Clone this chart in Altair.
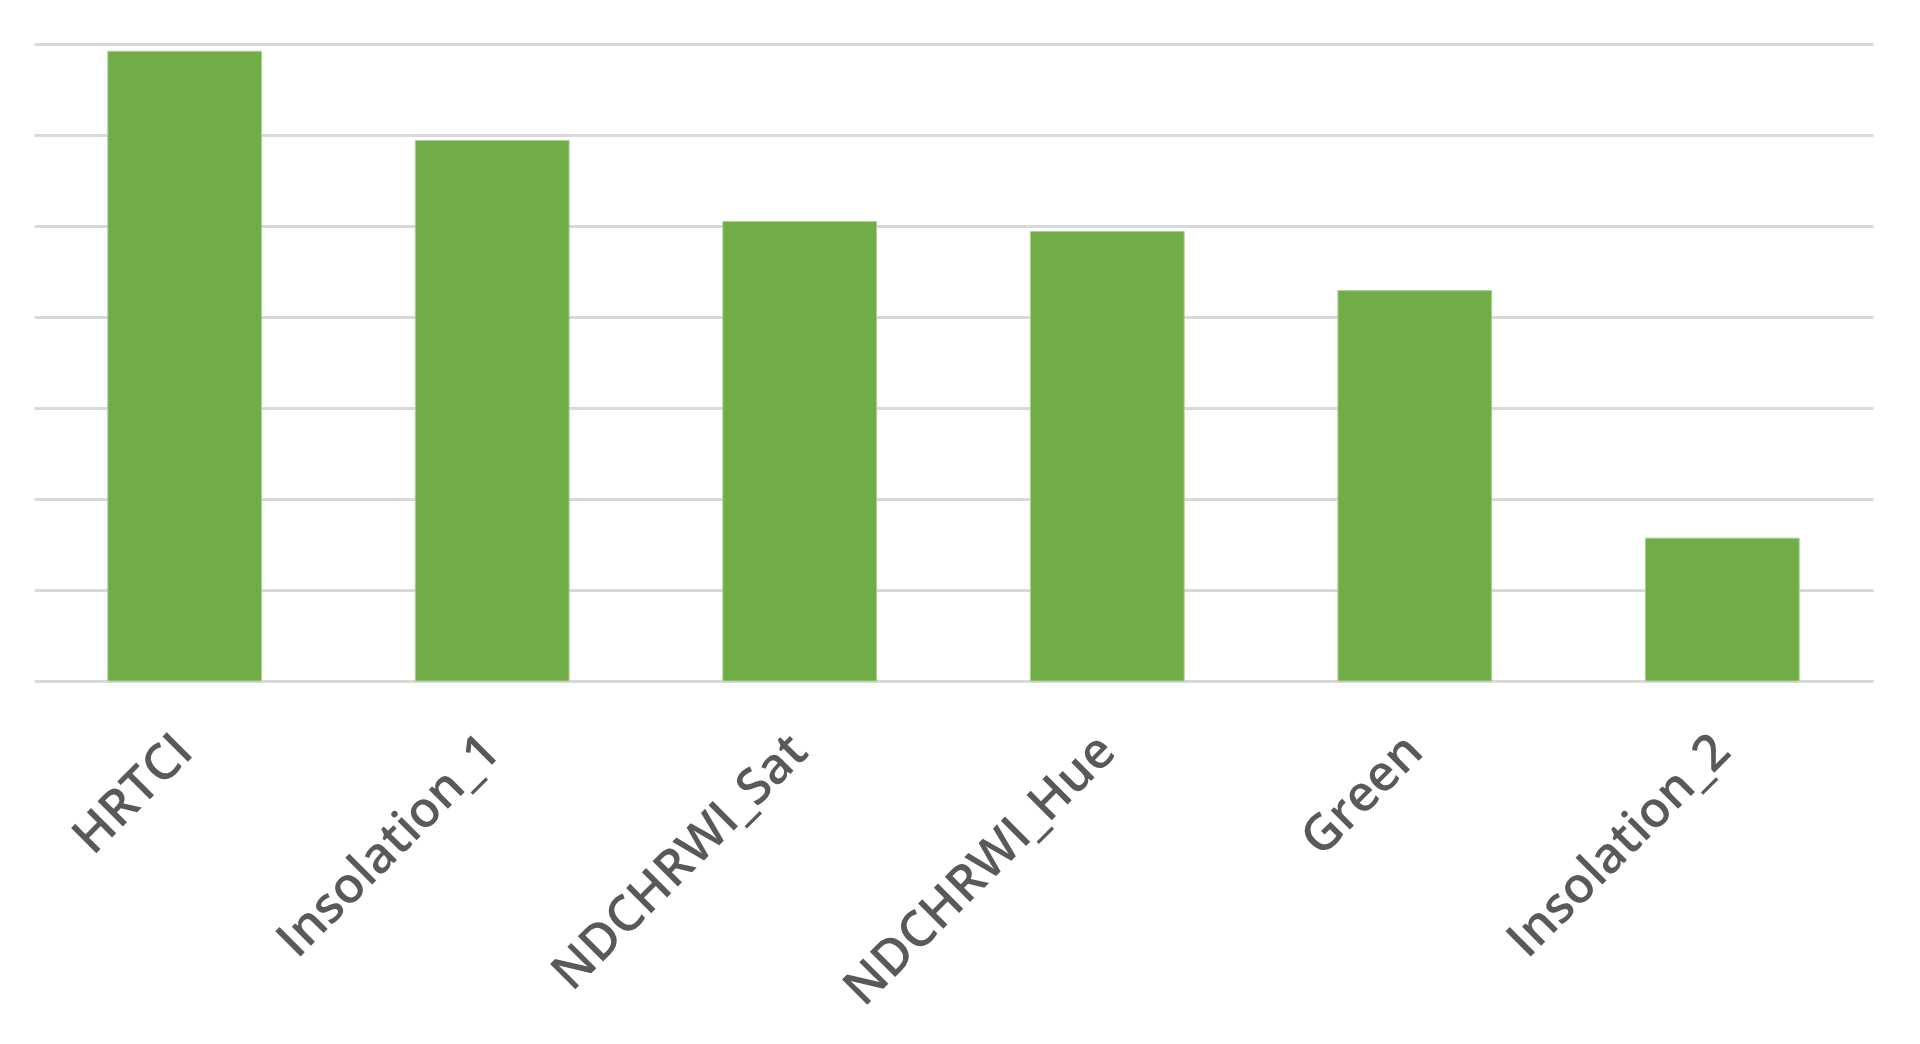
import altair as alt
import pandas as pd

categories = ["HRTCI", "Insolation_1", "NDCHRWI_Sat", "NDCHRWI_Hue", "Green", "Insolation_2"]
values = [6.92, 5.94, 5.05, 4.94, 4.29, 1.57]
grid_ticks = [0, 1, 2, 3, 4, 5, 6, 7]

df = pd.DataFrame({"feature": categories, "value": values})

chart = alt.Chart(df).mark_bar(color="#70AD47", stroke="#a9d18e", strokeWidth=1).encode(
    x=alt.X("feature:N", sort=categories, title=None,
            scale=alt.Scale(paddingInner=0.5, paddingOuter=0.24),
            axis=alt.Axis(labelAngle=-45, labelAlign="right", labelBaseline="middle",
                          labelFont="Open Sans", labelFontSize=50, labelFontWeight=600,
                          labelColor="#595959", labelPadding=62, ticks=False, domain=False,
                          grid=False, labelLimit=0)),
    y=alt.Y("value:Q", title=None,
            scale=alt.Scale(domain=[0, 7], nice=False, zero=True),
            axis=alt.Axis(values=grid_ticks, labels=False, ticks=False, domain=False,
                          grid=True, gridColor="#d9d9d9", gridWidth=3)),
).properties(
    width=1839, height=637,
    autosize=alt.AutoSizeParams(type="none"),
    padding={"left": 26, "top": 36, "right": 30, "bottom": 340},
).configure_view(stroke=None)

chart.save("out.html", embed_options={"renderer": "svg", "actions": False})
